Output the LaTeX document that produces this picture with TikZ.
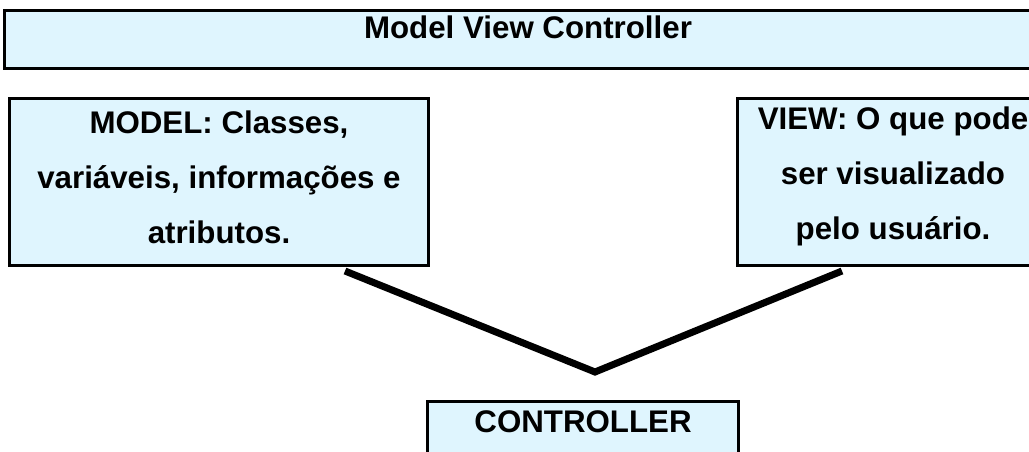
\documentclass[tikz,border=0pt]{standalone}
\usepackage{fontspec}
\setmainfont{Liberation Sans}
\usetikzlibrary{positioning}
\definecolor{caixa}{RGB}{223,245,254}

\begin{document}
\begin{tikzpicture}[
    x=0.02cm, y=-0.02cm,
    box/.style={rectangle, draw, fill=caixa, line width=0.06cm, inner sep=0pt},
    boxtext/.style={font=\fontsize{17.8}{31.3}\selectfont\bfseries, align=center, inner sep=0pt}, % texto em negrito
    link/.style={draw, line width=0.14cm}
    ]
    \useasboundingbox (0,0) rectangle (1029,452);

    \node[box, minimum width=21.1cm, minimum height=1.16cm] (mvc) at (532,39.5) {};
    \node[boxtext] (mvctext) at (528,27) {Model View Controller};

    \node[box, minimum width=8.4cm, minimum height=3.36cm] (model) at (219,182) {};
    \node[boxtext] (modeltext) at (219,177) {MODEL: Classes,\\ variáveis, informações e\\ atributos.};

    \node[box, minimum width=6.5cm, minimum height=3.36cm] (view) at (900,182) {};
    \node[boxtext] (viewtext) at (893,176) {VIEW: O que pode\\ ser visualizado\\ pelo usuário.};

    \node[box, minimum width=6.24cm, minimum height=1.38cm] (controller) at (583,435.5) {};
    \node[boxtext] (controllertext) at (583,422) {CONTROLLER};

    \coordinate (mstart) at (345,271);
    \coordinate (vtip) at (595,372);
    \coordinate (vend) at (842,271);
    \draw[link] (mstart) -- (vtip) -- (vend);
\end{tikzpicture}
\end{document}
